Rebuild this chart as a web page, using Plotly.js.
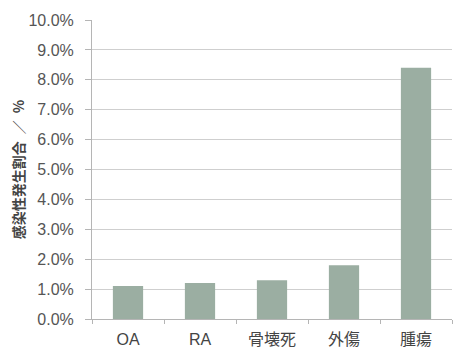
<!DOCTYPE html>
<html><head><meta charset="utf-8">
<script src="https://cdn.plot.ly/plotly-3.0.1.min.js"></script>
<style>html,body{margin:0;padding:0;background:#fff;}#chart{width:459px;height:347px;}</style>
</head><body><div id="chart"></div>
<script>
const categories = ['OA', 'RA', '骨壊死', '外傷', '腫瘍'];
const rates = [0.011, 0.012, 0.013, 0.018, 0.084];
const yTickVals = [0, 0.01, 0.02, 0.03, 0.04, 0.05, 0.06, 0.07, 0.08, 0.09, 0.10];
const yTitle = '感染性発生割合\u2002／\u2002%';

const trace = {
  type: 'bar',
  x: categories,
  y: rates,
  marker: {color: '#9baea2', line: {width: 0}},
  hoverinfo: 'skip'
};
const layout = {
  width: 459, height: 347,
  margin: {l: 92, r: 7, t: 20, b: 28},
  paper_bgcolor: '#fff', plot_bgcolor: '#fff',
  bargap: 0.58,
  showlegend: false,
  font: {family: 'Liberation Sans, Arial, sans-serif', size: 16, color: '#555'},
  xaxis: {
    showline: true, linecolor: '#b5b5b5', linewidth: 1,
    ticks: 'outside', ticklen: 4, tickcolor: '#b5b5b5', tickson: 'boundaries',
    showgrid: false, zeroline: false, ticklabelstandoff: 6,
    tickfont: {family: 'Liberation Sans, Noto Sans CJK JP, sans-serif', size: 16, color: '#444'}
  },
  yaxis: {
    range: [0, 0.1], tickvals: yTickVals, tickformat: '.1%',
    showline: true, linecolor: '#b5b5b5', linewidth: 1,
    ticks: 'outside', ticklen: 6, tickcolor: '#b5b5b5',
    showgrid: true, gridcolor: '#cfcfcf', gridwidth: 1, zeroline: false,
    ticklabelstandoff: 8,
    tickfont: {size: 16, color: '#555'},
    title: {text: yTitle, standoff: 0,
      font: {family: 'Noto Sans CJK JP, sans-serif', size: 14, color: '#444', weight: 'bold'}}
  }
};
Plotly.newPlot('chart', [trace], layout, {displayModeBar: false, staticPlot: true});
</script></body></html>
